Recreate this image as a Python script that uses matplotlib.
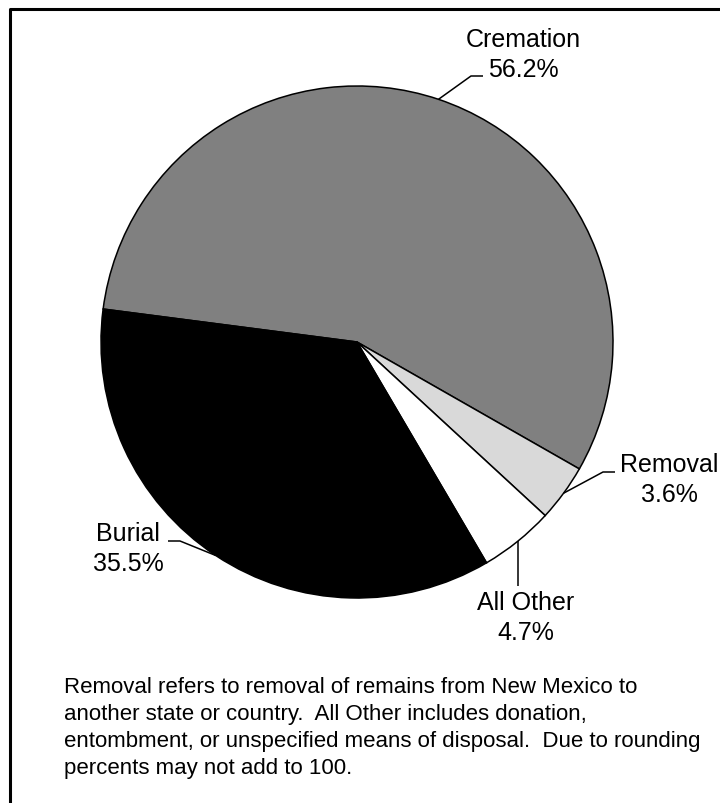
import matplotlib.pyplot as plt
import numpy as np

# Disposition of deceased, New Mexico
labels = ['Cremation', 'Removal', 'All Other', 'Burial']
percents = [56.2, 3.6, 4.7, 35.5]
colors = ['#808080', '#d9d9d9', '#ffffff', '#000000']

plt.rcParams['font.family'] = ['Liberation Sans', 'DejaVu Sans']

W, H = 720, 804
fig = plt.figure(figsize=(W / 100, H / 100), dpi=100)
ax = fig.add_axes([0, 0, 1, 1])

def py(y):
    # pixel row -> data y
    return H - y

cx, cy, r = 357, 343, 256
wedges, _ = ax.pie(percents, colors=colors, startangle=172.6, counterclock=False,
                   center=(cx, py(cy)), radius=r,
                   wedgeprops=dict(edgecolor='black', linewidth=1.1))

# label layout: elbow point, end of leader, text centre (pixels)
layout = {
    'Cremation': dict(elbow=(471, 77), end=(483, 77), text=(523, 55)),
    'Removal': dict(elbow=(603, 473), end=(615, 473), text=(669, 480)),
    'All Other': dict(elbow=None, end=(517, 587), text=(526, 618)),
    'Burial': dict(elbow=(180, 542), end=(168, 542), text=(128, 549)),
}

for w, lab, pct in zip(wedges, labels, percents):
    mid = np.deg2rad((w.theta1 + w.theta2) / 2)
    ex = cx + r * np.cos(mid)
    ey = py(cy) + r * np.sin(mid)
    L = layout[lab]
    xs, ys = [ex], [ey]
    if L['elbow'] is not None:
        xs += [L['elbow'][0], L['end'][0]]
        ys += [py(L['elbow'][1]), py(L['end'][1])]
    else:
        xs.append(ex)
        ys.append(py(L['end'][1]))
    ax.plot(xs, ys, color='black', lw=1.1, zorder=3, solid_capstyle='butt')
    ax.text(L['text'][0], py(L['text'][1]), f'{lab}\n{pct:.1f}%', ha='center', va='center',
            fontsize=18, linespacing=1.32, color='black', zorder=4)

note = ('Removal refers to removal of remains from New Mexico to\n'
        'another state or country.  All Other includes donation,\n'
        'entombment, or unspecified means of disposal.  Due to rounding\n'
        'percents may not add to 100.')
ax.text(64, py(677), note, ha='left', va='top', fontsize=16, linespacing=1.38)

# outer frame (right and bottom run off the image)
ax.plot([10, 10, W + 5], [py(H + 5), py(9.5), py(9.5)], color='black', lw=2.2)

ax.set_xlim(0, W)
ax.set_ylim(0, H)
ax.set_aspect('auto')
ax.axis('off')

fig.savefig('out.png', dpi=100)
